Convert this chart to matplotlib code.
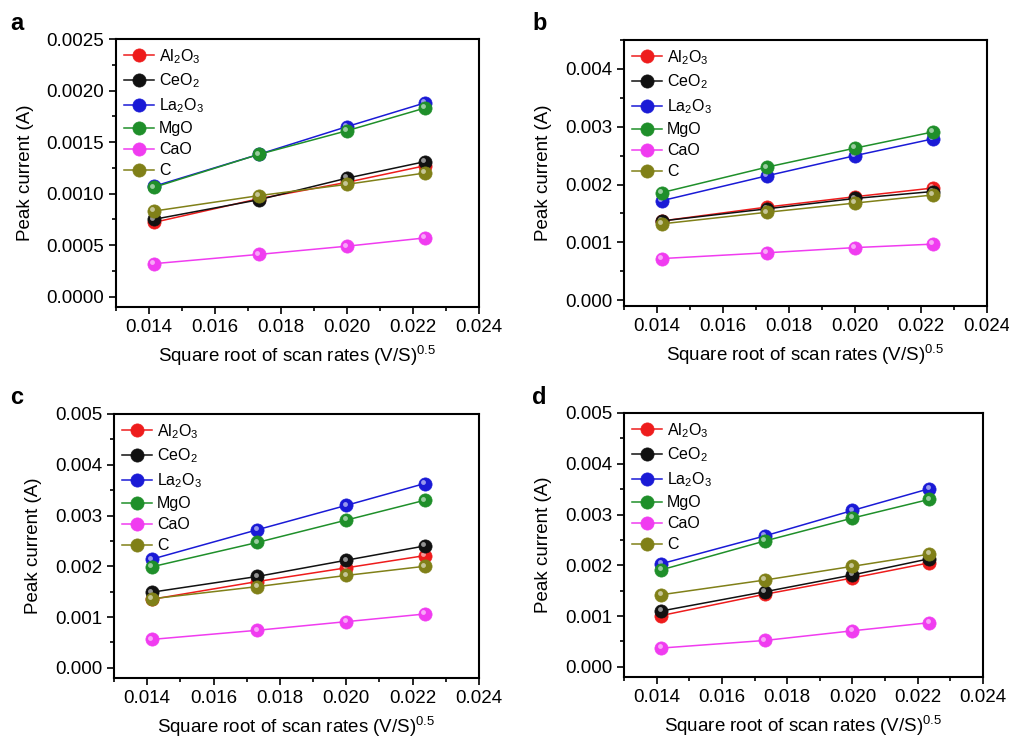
import matplotlib
matplotlib.use("Agg")
import matplotlib.pyplot as plt
from matplotlib.ticker import MultipleLocator, FormatStrFormatter
from matplotlib.transforms import ScaledTranslation

plt.rcParams['font.family'] = ['Liberation Sans', 'DejaVu Sans']
plt.rcParams['mathtext.fontset'] = 'custom'
plt.rcParams['mathtext.rm'] = 'Liberation Sans'
plt.rcParams['mathtext.it'] = 'Liberation Sans'

# square root of scan rate, (V/s)^0.5
sqrt_rate = [0.01414, 0.01732, 0.02000, 0.02236]

materials = ['Al$_2$O$_3$', 'CeO$_2$', 'La$_2$O$_3$', 'MgO', 'CaO', 'C']
colors = ['#ee1c1c', '#111111', '#1a1ad6', '#1f8f2a', '#f03cf0', '#808018']

# peak currents (A), one list per material, panels a-d
peak_a = [
    [0.00072, 0.00095, 0.00111, 0.00127],
    [0.00075, 0.00094, 0.00115, 0.00131],
    [0.00107, 0.00138, 0.00165, 0.00188],
    [0.00106, 0.00138, 0.00161, 0.00183],
    [0.00032, 0.00041, 0.00049, 0.00057],
    [0.00083, 0.00098, 0.00109, 0.00120],
]
peak_b = [
    [0.00137, 0.00161, 0.00179, 0.00194],
    [0.00137, 0.00158, 0.00176, 0.00188],
    [0.00172, 0.00215, 0.00250, 0.00279],
    [0.00186, 0.00230, 0.00263, 0.00291],
    [0.00072, 0.00082, 0.00091, 0.00097],
    [0.00132, 0.00152, 0.00168, 0.00182],
]
peak_c = [
    [0.00135, 0.00170, 0.00197, 0.00221],
    [0.00149, 0.00180, 0.00212, 0.00240],
    [0.00214, 0.00272, 0.00320, 0.00363],
    [0.00199, 0.00247, 0.00291, 0.00330],
    [0.00056, 0.00074, 0.00091, 0.00106],
    [0.00136, 0.00160, 0.00182, 0.00200],
]
peak_d = [
    [0.00101, 0.00143, 0.00175, 0.00205],
    [0.00110, 0.00148, 0.00181, 0.00213],
    [0.00203, 0.00258, 0.00308, 0.00351],
    [0.00191, 0.00248, 0.00293, 0.00330],
    [0.00037, 0.00052, 0.00071, 0.00087],
    [0.00142, 0.00171, 0.00198, 0.00222],
]

W, H = 1009, 741
fig = plt.figure(figsize=(W / 100, H / 100), dpi=100)


def make_axes(left, top, right, bottom):
    return fig.add_axes([left / W, 1 - bottom / H, (right - left) / W, (bottom - top) / H])


panels = [
    ('a', peak_a, (116, 39, 479, 307), (-0.0001, 0.0025), 0.0005, '%.4f', (10, 30)),
    ('b', peak_b, (624, 40, 987, 306), (-0.0001, 0.0045), 0.001, '%.3f', (532, 30)),
    ('c', peak_c, (114, 414, 479, 678), (-0.0002, 0.005), 0.001, '%.3f', (10, 404)),
    ('d', peak_d, (624, 413, 983, 677), (-0.0002, 0.005), 0.001, '%.3f', (532, 404)),
]

# small shift for the sphere highlight
shine = ScaledTranslation(-1.2 / 72, 1.2 / 72, fig.dpi_scale_trans)

for letter, data, box, ylim, ystep, yfmt, lpos in panels:
    ax = make_axes(*box)
    for name, vals, c in zip(materials, data, colors):
        ax.plot(sqrt_rate, vals, '-', color=c, lw=1.1, marker='o', ms=9.5,
                markerfacecolor=c, markeredgecolor=c, markeredgewidth=0.5, label=name)
        ax.plot(sqrt_rate, vals, 'o', ms=3.5, color='white', alpha=0.55,
                markeredgewidth=0, transform=ax.transData + shine)
    ax.set_xlim(0.013, 0.024)
    ax.set_ylim(*ylim)
    ax.xaxis.set_major_locator(MultipleLocator(0.002))
    ax.xaxis.set_minor_locator(MultipleLocator(0.001))
    ax.yaxis.set_major_locator(MultipleLocator(ystep))
    ax.yaxis.set_minor_locator(MultipleLocator(ystep / 2))
    ax.xaxis.set_major_formatter(FormatStrFormatter('%.3f'))
    ax.yaxis.set_major_formatter(FormatStrFormatter(yfmt))
    ax.tick_params(which='both', direction='out', top=False, right=False, width=1.2)
    ax.tick_params(which='major', length=5, labelsize=13.5)
    ax.tick_params(which='minor', length=3)
    for sp in ax.spines.values():
        sp.set_linewidth(1.5)
    ax.set_xlabel(r'Square root of scan rates (V/S)$^{0.5}$', fontsize=13.5, labelpad=6)
    ax.set_ylabel('Peak current (A)', fontsize=13.5, labelpad=9)
    ax.legend(loc='upper left', frameon=False, fontsize=11.5, handlelength=1.9,
              handletextpad=0.3, labelspacing=0.38, borderaxespad=0.2,
              borderpad=0.3)
    fig.text(lpos[0] / W, 1 - lpos[1] / H, letter, fontsize=17, fontweight='bold')

fig.savefig('out.png', dpi=100)
